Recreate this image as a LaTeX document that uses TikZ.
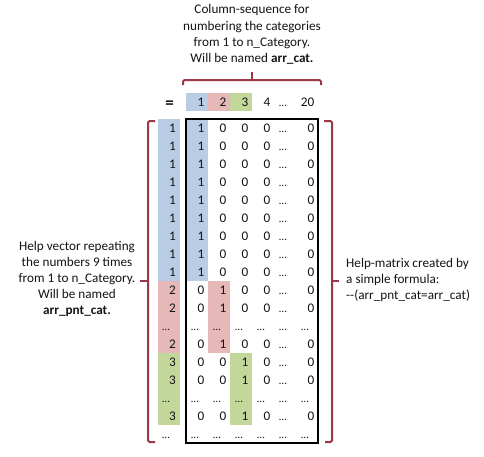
\documentclass[tikz,border=0pt]{standalone}
\usepackage{fontspec}
\setmainfont{Carlito}
\definecolor{cblue}{RGB}{184,204,228}
\definecolor{cpink}{RGB}{230,184,183}
\definecolor{cgreen}{RGB}{196,215,155}
\definecolor{brk}{RGB}{155,55,70}
\definecolor{txt}{RGB}{20,20,20}
\tikzset{
  num/.style={font=\fontsize{13.2}{16}\selectfont, inner sep=0pt, text=txt, text height=8.4pt, text depth=0pt},
  lbl/.style={font=\fontsize{13.2}{16.2}\selectfont, inner sep=0pt, text=txt},
  bracket/.style={draw=brk, line width=2pt, rounded corners=1.5pt},
  boxline/.style={draw=black, line width=1.4pt}
}
\newcommand\dts{{\fontsize{11}{14}\selectfont …}}
% row, col, text  (col 0 = vector column, cols 1..6 = matrix)
\newcommand\cellR[3]{%
  \pgfmathsetmacro\xx{#2==0 ? 176 : 164+22*#2+22-3.5}%
  \pgfmathsetmacro\yy{128+18*#1}%
  \node[num,anchor=east] (c-#1-#2) at (\xx,\yy) {#3};}
\newcommand\cellL[3]{%
  \pgfmathsetmacro\xx{#2==0 ? 162 : 164+22*#2+5}%
  \pgfmathsetmacro\yy{128+18*#1}%
  \node[num,anchor=west] (c-#1-#2) at (\xx,\yy) {#3};}
\newcommand\numrow[5]{% row, vector value, c1, c2, c3
  \cellR{#1}{0}{#2}\cellR{#1}{1}{#3}\cellR{#1}{2}{#4}\cellR{#1}{3}{#5}%
  \cellR{#1}{4}{0}\cellL{#1}{5}{\dts}\cellR{#1}{6}{0}}
\newcommand\dotrow[1]{%
  \cellL{#1}{0}{\dts}\cellL{#1}{1}{\dts}\cellL{#1}{2}{\dts}\cellL{#1}{3}{\dts}%
  \cellL{#1}{4}{\dts}\cellL{#1}{5}{\dts}\cellL{#1}{6}{\dts}}
\begin{document}
\begin{tikzpicture}[x=1pt,y=-1pt]
\useasboundingbox (0,0) rectangle (484,456);
\fill[white] (0,0) rectangle (484,456);
% fills: header
\fill[cblue]  (186,93) rectangle (208,111);
\fill[cpink]  (208,93) rectangle (230,111);
\fill[cgreen] (230,93) rectangle (252,111);
% fills: vector column
\fill[cblue]  (158,119) rectangle (180,281);
\fill[cpink]  (158,281) rectangle (180,353);
\fill[cgreen] (158,353) rectangle (180,425);
% fills: matrix
\fill[cblue]  (186,119) rectangle (208,281);
\fill[cpink]  (208,281) rectangle (230,353);
\fill[cgreen] (230,353) rectangle (252,425);
% matrix box
\draw[boxline] (186,119) rectangle (318,443);
% header row
\node[lbl, font=\fontsize{17}{18}\selectfont\bfseries] (eq) at (169.5,104.5) {=};
\node[num,anchor=east] (h1) at (204.5,102) {1};
\node[num,anchor=east] (h2) at (226.5,102) {2};
\node[num,anchor=east] (h3) at (248.5,102) {3};
\node[num,anchor=east] (h4) at (270.5,102) {4};
\node[num,anchor=west] (h5) at (279,102) {\dts};
\node[num,anchor=east] (h6) at (314.5,102) {20};
% rows
\foreach \r in {0,...,8} {\numrow{\r}{1}{1}{0}{0}}
\numrow{9}{2}{0}{1}{0}
\numrow{10}{2}{0}{1}{0}
\dotrow{11}
\numrow{12}{2}{0}{1}{0}
\numrow{13}{3}{0}{0}{1}
\numrow{14}{3}{0}{0}{1}
\dotrow{15}
\numrow{16}{3}{0}{0}{1}
\dotrow{17}
% brackets
\draw[bracket] (183,85) -- (183,80) -- (321,80) -- (321,85);
\draw[bracket] (252,80) -- (252,72);
\draw[bracket] (155,121) -- (148,121) -- (148,442) -- (155,442);
\draw[bracket] (148,281) -- (140,281);
\draw[bracket] (324,121) -- (332,121) -- (332,442) -- (325,442);
\draw[bracket] (332,281) -- (339,281);
% texts
\node[lbl, align=center] (toptext) at (252,34.5)
  {Column-sequence for\\numbering the categories\\from 1 to n\_Category.\\Will be named \textbf{arr\_cat.}};
\node[lbl, align=center] (lefttext) at (77,279)
  {Help vector repeating\\the numbers 9 times\\from 1 to n\_Category.\\Will be named\\\textbf{arr\_pnt\_cat.}};
\node[lbl, align=left, anchor=west] (righttext) at (346,280)
  {Help-matrix created by\\a simple formula:\\-{}-(arr\_pnt\_cat=arr\_cat)};
\end{tikzpicture}
\end{document}
